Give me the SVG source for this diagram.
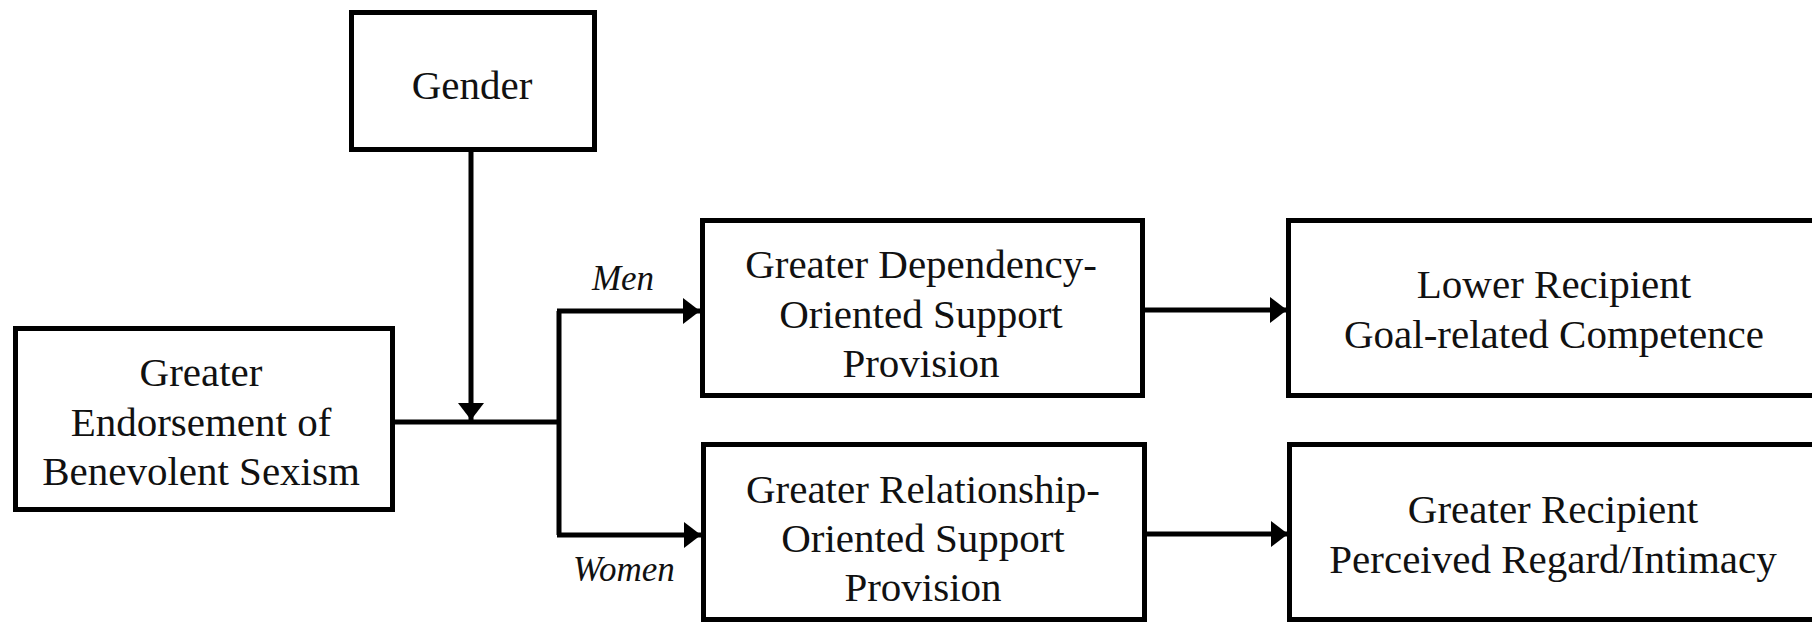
<svg xmlns="http://www.w3.org/2000/svg" width="1812" height="623" viewBox="0 0 1812 623">
<style>
.box{fill:#fff;stroke:#000;stroke-width:5}
.t{font-family:"Liberation Serif","Times New Roman",serif;font-size:41px;fill:#111;text-anchor:middle}
.lab{font-family:"Liberation Serif","Times New Roman",serif;font-size:35px;font-style:italic;fill:#111;text-anchor:middle}
.c{fill:none;stroke:#000;stroke-width:5}
</style>
<defs>
<marker id="ah" markerUnits="userSpaceOnUse" markerWidth="18" markerHeight="26" refX="17" refY="13" orient="auto">
<path d="M0,0 L17,13 L0,26 Z" fill="#000"/>
</marker>
</defs>
<rect width="1812" height="623" fill="#fff"/>
<g id="connectors">
<path class="c" d="M471,151 L471,420" marker-end="url(#ah)"/>
<path class="c" d="M391,422 L561,422"/>
<path class="c" d="M559,311 L559,535"/>
<path class="c" d="M557,311 L700,311" marker-end="url(#ah)"/>
<path class="c" d="M557,535 L701,535" marker-end="url(#ah)"/>
<path class="c" d="M1145,310 L1287,310" marker-end="url(#ah)"/>
<path class="c" d="M1147,534 L1288,534" marker-end="url(#ah)"/>
<text class="lab" x="623" y="290">Men</text>
<text class="lab" x="624" y="581">Women</text>
</g>
<g id="gender">
<rect class="box" x="351.5" y="12.5" width="243" height="137"/>
<text class="t" x="472" y="99">Gender</text>
</g>
<g id="sexism">
<rect class="box" x="15.5" y="328.5" width="377" height="181"/>
<text class="t" x="201" y="386">Greater</text>
<text class="t" x="201" y="436">Endorsement of</text>
<text class="t" x="201" y="485">Benevolent Sexism</text>
</g>
<g id="dependency">
<rect class="box" x="702.5" y="220.5" width="440" height="175"/>
<text class="t" x="921" y="278">Greater Dependency-</text>
<text class="t" x="921" y="328">Oriented Support</text>
<text class="t" x="921" y="377">Provision</text>
</g>
<g id="relationship">
<rect class="box" x="703.5" y="444.5" width="441" height="175"/>
<text class="t" x="923" y="503">Greater Relationship-</text>
<text class="t" x="923" y="552">Oriented Support</text>
<text class="t" x="923" y="601">Provision</text>
</g>
<g id="competence">
<rect class="box" x="1288.5" y="220.5" width="600" height="175"/>
<text class="t" x="1554" y="298">Lower Recipient</text>
<text class="t" x="1554" y="348">Goal-related Competence</text>
</g>
<g id="regard">
<rect class="box" x="1289.5" y="444.5" width="600" height="175"/>
<text class="t" x="1553" y="523">Greater Recipient</text>
<text class="t" x="1553" y="573">Perceived Regard/Intimacy</text>
</g>
</svg>
